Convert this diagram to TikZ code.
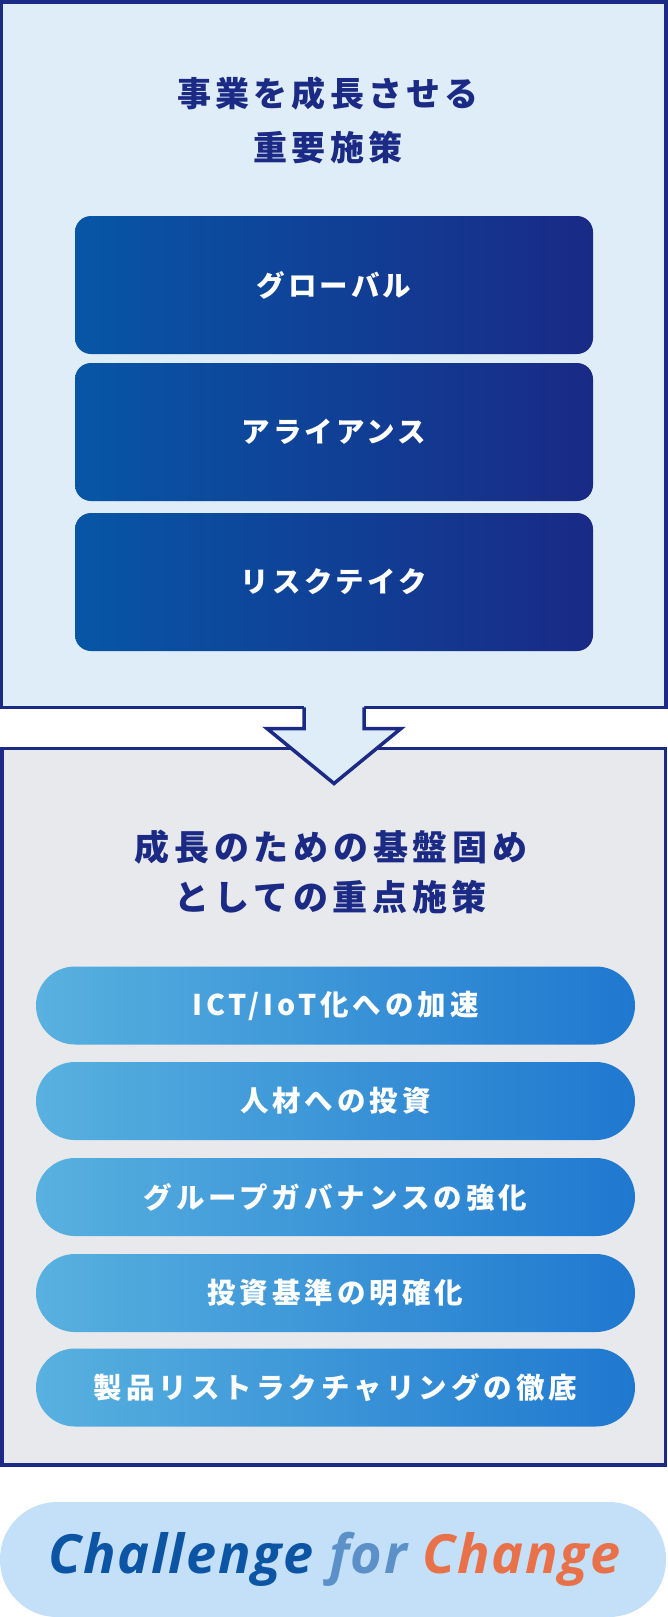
\documentclass[tikz,border=0pt]{standalone}
\usepackage{fontspec}
\newfontfamily\jpT[LetterSpace=12]{Noto Sans CJK JP}
\newfontfamily\jpL[LetterSpace=13.5]{Noto Sans CJK JP}
\newfontfamily\jpD[LetterSpace=11]{Noto Sans CJK JP}
\newfontfamily\jpP[LetterSpace=14]{Noto Sans CJK JP}
\newfontfamily\lat[LetterSpace=3]{Open Sans}
\usetikzlibrary{calc}
\definecolor{navy}{HTML}{1B2A84}
\definecolor{topfill}{HTML}{DEEDF7}
\definecolor{lowfill}{HTML}{E8E9EC}
\definecolor{darkL}{HTML}{0756A6}
\definecolor{darkR}{HTML}{192A86}
\definecolor{pillL}{HTML}{58B1DF}
\definecolor{pillR}{HTML}{1F78CF}
\definecolor{chfill}{HTML}{C3E0F8}
\definecolor{chA}{HTML}{0C55A5}
\definecolor{chB}{HTML}{5B90C9}
\definecolor{chC}{HTML}{E8714A}
\tikzset{
  panel/.style={draw=navy, line width=3.5pt, outer sep=0pt, inner sep=0pt},
  titletext/.style={text=navy, align=center, font=\jpT\bfseries\fontsize{34}{54}\selectfont},
  darkbox/.style={left color=darkL, right color=darkR, rounded corners=16pt, minimum width=518pt, minimum height=138pt, inner sep=0pt, text=white, font=\jpD\bfseries\fontsize{28.5}{34}\selectfont},
  pill/.style={left color=pillL, right color=pillR, rounded corners=39pt, minimum width=599pt, minimum height=78pt, inner sep=0pt, text=white, font=\jpP\bfseries\fontsize{28.5}{32}\selectfont},
  arrowfill/.style={fill=topfill},
  arrowline/.style={draw=navy, line width=3.5pt, line join=miter},
}
\begin{document}
\begin{tikzpicture}[x=1pt,y=-1pt]
\useasboundingbox (0,0) rectangle (668,1617);
% top panel
\node[panel, fill=topfill, minimum width=664.5pt, minimum height=705.5pt] (top) at (333.75,354.5) {};
\node[titletext] (toptitle) at (328,120) {事業を成長させる\\重要施策};
\node[darkbox] (d1) at (334,285) {グローバル};
\node[darkbox] (d2) at (334,432) {アライアンス};
\node[darkbox] (d3) at (334,582) {リスクテイク};
% lower panel
\node[panel, fill=lowfill, minimum width=663.5pt, minimum height=716.5pt] (low) at (333.5,1106.75) {};
% arrow
\coordinate (as) at (top.south -| 334,0);
\fill[arrowfill] ($(as)+(-30,-3)$) -- ($(as)+(-30,21.25)$) -- ($(as)+(-67,21.25)$) -- ($(as)+(0,76.25)$) -- ($(as)+(67,21.25)$) -- ($(as)+(30,21.25)$) -- ($(as)+(30,-3)$) -- cycle;
\draw[arrowline] ($(as)+(-30,0)$) -- ($(as)+(-30,21.25)$) -- ($(as)+(-67,21.25)$) -- ($(as)+(0,76.25)$) -- ($(as)+(67,21.25)$) -- ($(as)+(30,21.25)$) -- ($(as)+(30,0)$);
\node[titletext, font=\jpL\bfseries\fontsize{35}{50}\selectfont] (lowtitle) at (331,872) {成長のための基盤固め\\としての重点施策};
\node[pill] (p1) at (335.5,1005.5) {ICT/IoT化への加速};
\node[pill] (p2) at (335.5,1101) {人材への投資};
\node[pill] (p3) at (335.5,1197) {グループガバナンスの強化};
\node[pill] (p4) at (335.5,1293) {投資基準の明確化};
\node[pill] (p5) at (335.5,1387.5) {製品リストラクチャリングの徹底};
% slogan
\node[fill=chfill, rounded corners=57pt, minimum width=666pt, minimum height=115pt, inner sep=0pt] (slogan) at (333,1559.5) {};
\node[font=\lat\bfseries\itshape\fontsize{54}{60}\selectfont, anchor=base] (slogantext) at (334.5,1573) {\textcolor{chA}{Challenge} \textcolor{chB}{for} \textcolor{chC}{Change}};
\end{tikzpicture}
\end{document}
